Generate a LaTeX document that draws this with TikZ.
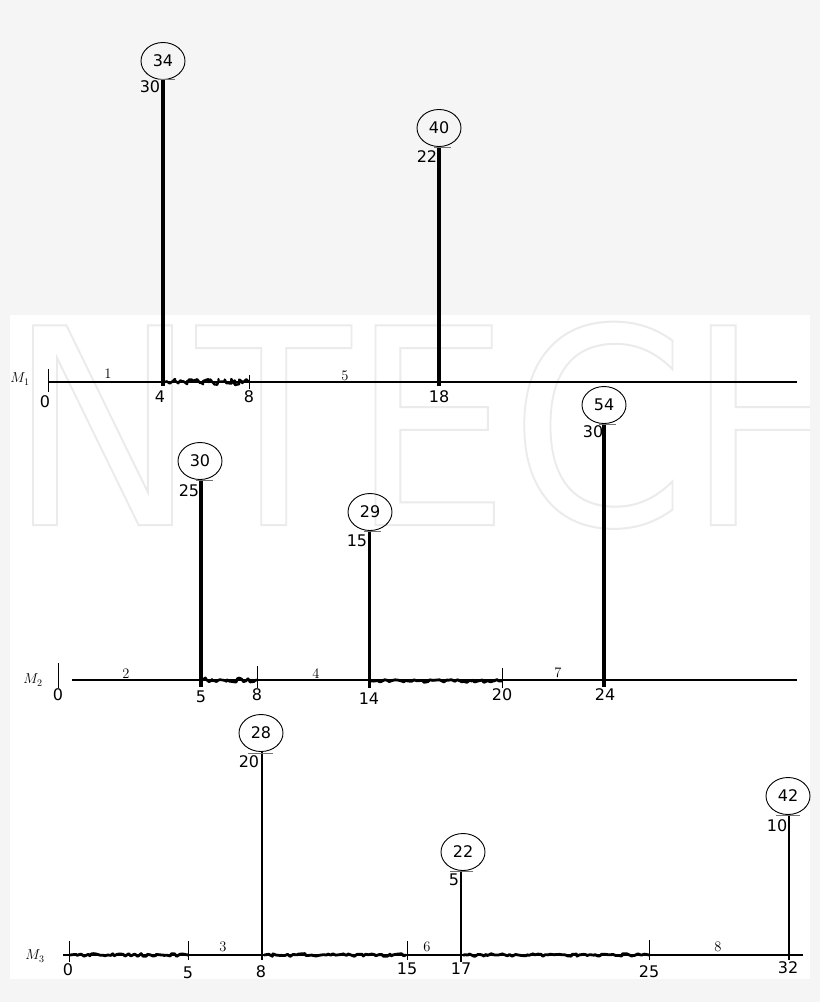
\documentclass[tikz,border=0pt]{standalone}
\usepackage{fontspec}
\newfontfamily\numfont{DejaVu Sans}
\usetikzlibrary{shapes.geometric, decorations.pathmorphing}

\begin{document}
\begin{tikzpicture}[x=1pt, y=-1pt,
    job/.style={ellipse, draw, line width=0.9pt, minimum width=44pt, minimum height=37pt, inner sep=0pt, font=\numfont\fontsize{16}{18}\selectfont},
    num/.style={inner sep=0pt, font=\numfont\fontsize{16}{18}\selectfont},
    seg/.style={inner sep=0pt, font=\fontsize{14.5}{16}\selectfont},
    timeline/.style={line width=2pt},
    tickline/.style={line width=0.9pt},
    captick/.style={draw=black!55, line width=0.8pt},
    bar/.style={line width=#1}, bar/.default=4pt,
    busy/.style={line width=2.8pt, line join=round, decorate, decoration={random steps, segment length=2.5pt, amplitude=1.4pt}}]
        \pgfmathsetseed{7}
        \useasboundingbox (0,0) rectangle (820,1002);
        \fill[black!4] (0,0) rectangle (820,1002);
        \fill[white] (10,315) rectangle (810,979);
        % watermark
        \begin{scope}
            \clip (10,315) rectangle (810,979);
            \node[anchor=base west, inner sep=0pt] at (8,525) (wm) {\scalebox{0.92}[1]{\numfont\fontsize{274}{280}\selectfont\special{pdf:literal direct 1 Tr 0.92 G 2 w}NTECH\special{pdf:literal direct 0 Tr}}};
        \end{scope}

        % M1
        \node[seg] at (20,379) (m1) {$M_1$};
        \draw[tickline] (48,369) -- (48,392);
        \draw[timeline] (48,382) -- (797,382);
        \draw[busy, line width=2.4pt, decoration={random steps, segment length=2pt, amplitude=3pt}] (165,382) -- (249,382);
        \draw[tickline] (249,375) -- (249,389);
        \node[seg] at (108,374) (s1) {1};
        \node[seg] at (345,376) (s5) {5};
        \node[num] at (45,402) (t10) {0};
        \node[num] at (160,397) (t14) {4};
        \node[num] at (249,397) (t18) {8};
        \node[num] at (439,397) (t118) {18};

        \node[job] at (163,61) (j1) {34};
        \coordinate (b1) at (163,386);
        \draw[bar] (j1.south -| b1) -- (b1);
        \draw[captick] (158,79) -- (175,79);
        \node[num] at (150,87) (r1) {30};

        \node[job] at (439,128) (j5) {40};
        \coordinate (b5) at (439,386);
        \draw[bar] (j5.south -| b5) -- (b5);
        \draw[captick] (434,147) -- (451,147);
        \node[num] at (427,157) (r5) {22};

        % M2
        \node[seg] at (33,680) (m2) {$M_2$};
        \draw[tickline] (58,663) -- (58,688);
        \draw[timeline] (72,680) -- (797,680);
        \draw[busy, line width=2.6pt, decoration={random steps, segment length=2pt, amplitude=2.2pt}] (203,680) -- (257,680);
        \draw[tickline] (257,666) -- (257,688);
        \draw[busy] (371,681) -- (502,681);
        \draw[tickline] (502,668) -- (502,688);
        \node[seg] at (126,674) (s2) {2};
        \node[seg] at (316,674) (s4) {4};
        \node[seg] at (558,673) (s7) {7};
        \node[num] at (58,695) (t20) {0};
        \node[num] at (201,697) (t25) {5};
        \node[num] at (257,695) (t28) {8};
        \node[num] at (369,699) (t214) {14};
        \node[num] at (502,695) (t220) {20};
        \node[num] at (605,695) (t224) {24};

        \node[job] at (200,461) (j2) {30};
        \coordinate (b2) at (201,687);
        \draw[bar] (j2.south -| b2) -- (b2);
        \draw[captick] (196,480) -- (213,480);
        \node[num] at (189,491) (r2) {25};

        \node[job] at (370,512) (j4) {29};
        \coordinate (b4) at (369,688);
        \draw[bar=3pt] (j4.south -| b4) -- (b4);
        \draw[captick] (364,531) -- (381,531);
        \node[num] at (357,541) (r4) {15};

        \node[job] at (604,405) (j7) {54};
        \coordinate (b7) at (604,687);
        \draw[bar] (j7.south -| b7) -- (b7);
        \draw[captick] (599,424) -- (616,424);
        \node[num] at (593,432) (r7) {30};

        % M3
        \node[seg] at (35,956) (m3) {$M_3$};
        \draw[timeline] (63,955) -- (803,955);
        \draw[busy] (70,955) -- (188,955);
        \draw[busy] (264,955) -- (406,955);
        \draw[busy] (463,955) -- (649,955);
        \draw[tickline] (69,941) -- (69,962);
        \draw[tickline] (188,941) -- (188,960);
        \draw[tickline] (407,941) -- (407,960);
        \draw[tickline] (649,940) -- (649,960);
        \node[seg] at (223,947) (s3) {3};
        \node[seg] at (427,947) (s6) {6};
        \node[seg] at (718,947) (s8) {8};
        \node[num] at (68,970) (t30) {0};
        \node[num] at (188,973) (t35) {5};
        \node[num] at (261,972) (t38) {8};
        \node[num] at (407,969) (t315) {15};
        \node[num] at (461,969) (t317) {17};
        \node[num] at (649,972) (t325) {25};
        \node[num] at (788,968) (t332) {32};

        \node[job] at (261,733) (j3) {28};
        \coordinate (b3) at (262,960);
        \draw[bar=2.6pt] (j3.south -| b3) -- (b3);
        \draw[captick] (248,753) -- (273,753);
        \node[num] at (249,762) (r3) {20};

        \node[job] at (463,852) (j6) {22};
        \coordinate (b6) at (461,962);
        \draw[bar=2.6pt] (j6.south -| b6) -- (b6);
        \draw[captick] (450,871) -- (473,871);
        \node[num] at (454,880) (r6) {5};

        \node[job] at (788,796) (j8) {42};
        \coordinate (b8) at (789,960);
        \draw[bar=2.6pt] (j8.south -| b8) -- (b8);
        \draw[captick] (776,815) -- (800,815);
        \node[num] at (777,826) (r8) {10};
    \end{tikzpicture}
\end{document}
